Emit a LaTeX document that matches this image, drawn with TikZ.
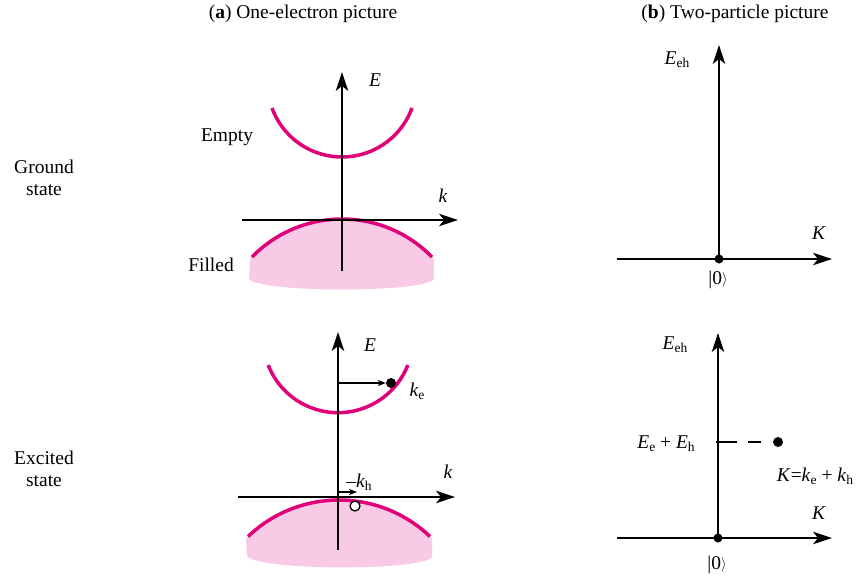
\documentclass[tikz,border=0pt]{standalone}
\usepackage{fontspec}
\setmainfont{Liberation Serif}
\usetikzlibrary{arrows.meta}
\definecolor{band}{RGB}{224,0,122}
\definecolor{bandfill}{RGB}{248,202,230}
\newcommand\sbx[1]{\raisebox{-0.35ex}{\fontsize{13.5}{14}\selectfont #1}}
\newcommand\ketz{|0\raisebox{0.1ex}{\fontsize{15}{15}\selectfont$\rangle$}}
\begin{document}
\begin{tikzpicture}[x=1pt,y=-1pt,font=\fontsize{19.5}{22}\selectfont,
  axis/.style={line width=1.3pt,-{Stealth[length=19pt,width=12.5pt,inset=5pt]}},
  bandline/.style={draw=band,line width=3.5pt},
  bandfillst/.style={fill=bandfill,draw=none},
  smallarrow/.style={line width=1.1pt,-{Stealth[length=8pt,width=6pt,inset=2pt]}},
  lbl/.style={inner sep=0pt},
  dotb/.style={circle,fill=black,inner sep=0pt,minimum size=10pt},
  doth/.style={circle,draw=black,fill=white,line width=1.3pt,inner sep=0pt,minimum size=10pt}]
\useasboundingbox (0,0) rectangle (858,581);

% titles
\node[lbl] (ta) at (303,14) {(\textbf{a}) One-electron picture};
\node[lbl] (tb) at (735,14) {(\textbf{b}) Two-particle picture};
\node[lbl,align=center] (gs) at (44,178) {Ground\\state};
\node[lbl,align=center] (es) at (44,469) {Excited\\state};

% ---------- (a) ground state ----------
\fill[bandfillst] plot[domain=223:317,samples=40] ({342+125.6*cos(\x)},{344.6+125.6*sin(\x)})
  -- (434,279) .. controls (424,293) and (260,293) .. (249,279) -- cycle;
\draw[bandline] plot[domain=224.2:315.8,samples=40] ({342+125.6*cos(\x)},{344.6+125.6*sin(\x)});
\draw[bandline] plot[domain=160:20,samples=40] ({342+74.5*cos(\x)},{82.5+74.5*sin(\x)});
\coordinate (aE0) at (342,271);
\coordinate (aE1) at (342,72);
\coordinate (ak0) at (242,220);
\coordinate (ak1) at (458,220);
\draw[axis] (aE0) -- (aE1);
\draw[axis] (ak0) -- (ak1);
\node[lbl] (aEl) at (375,80) {\textit{E}};
\node[lbl] (akl) at (443,196) {\textit{k}};
\node[lbl] (empty) at (227,137) {Empty};
\node[lbl] (filled) at (211,265) {Filled};

% ---------- (a) excited state ----------
\fill[bandfillst] plot[domain=225:315,samples=40] ({339+131.7*cos(\x)},{631.7+131.7*sin(\x)})
  -- (432,557) .. controls (422,571) and (258,571) .. (247,556) -- cycle;
\draw[bandline] plot[domain=226.3:313.7,samples=40] ({339+131.7*cos(\x)},{631.7+131.7*sin(\x)});
\draw[bandline] plot[domain=158.6:21.4,samples=40] ({338+75*cos(\x)},{337.7+75*sin(\x)});
\coordinate (bE0) at (338,550);
\coordinate (bE1) at (338,332);
\coordinate (bk0) at (238,497);
\coordinate (bk1) at (455,497);
\draw[axis] (bE0) -- (bE1);
\draw[axis] (bk0) -- (bk1);
\node[lbl] (bEl) at (370,345) {\textit{E}};
\node[lbl] (bkl) at (448,472) {\textit{k}};
\node[dotb] (el) at (391,383) {};
\coordinate (ke0) at (338,383);
\draw[smallarrow] (ke0) -- (el.west);
\node[lbl] (kel) at (417,391) {\textit{k}\sbx{e}};
\node[doth] (hole) at (355,506) {};
\coordinate (kh0) at (338,492);
\coordinate (kh1) at (357,492);
\draw[smallarrow] (kh0) -- (kh1);
\node[lbl] (khl) at (359,482) {–\textit{k}\sbx{h}};

% ---------- (b) ground state ----------
\coordinate (cE0) at (719,259);
\coordinate (cE1) at (719,45);
\coordinate (cK0) at (617,259);
\coordinate (cK1) at (832,259);
\draw[axis] (cE0) -- (cE1);
\draw[axis] (cK0) -- (cK1);
\node[dotb,minimum size=9pt] (c0) at (719,259) {};
\node[lbl] (cEl) at (677,60) {\textit{E}\sbx{eh}};
\node[lbl] (cKl) at (819,233) {\textit{K}};
\node[lbl] (c0l) at (718,280) {\ketz};

% ---------- (b) excited state ----------
\coordinate (dE0) at (718,538);
\coordinate (dE1) at (718,333);
\coordinate (dK0) at (617,538);
\coordinate (dK1) at (832,538);
\draw[axis] (dE0) -- (dE1);
\draw[axis] (dK0) -- (dK1);
\node[dotb,minimum size=9pt] (d0) at (718,538) {};
\node[dotb] (dx) at (778,442) {};
\coordinate (dd0) at (716,442);
\draw[line width=1.3pt,dash pattern=on 21pt off 11pt on 13pt off 20pt] (dd0) -- (dx.west);
\node[lbl] (dEl) at (675,345) {\textit{E}\sbx{eh}};
\node[lbl] (dKl) at (819,513) {\textit{K}};
\node[lbl] (d0l) at (717,565) {\ketz};
\node[lbl] (dsum) at (666,444) {\textit{E}\sbx{e} + \textit{E}\sbx{h}};
\node[lbl] (dKs) at (815,476) {\textit{K}=\textit{k}\sbx{e} + \textit{k}\sbx{h}};
\end{tikzpicture}
\end{document}
